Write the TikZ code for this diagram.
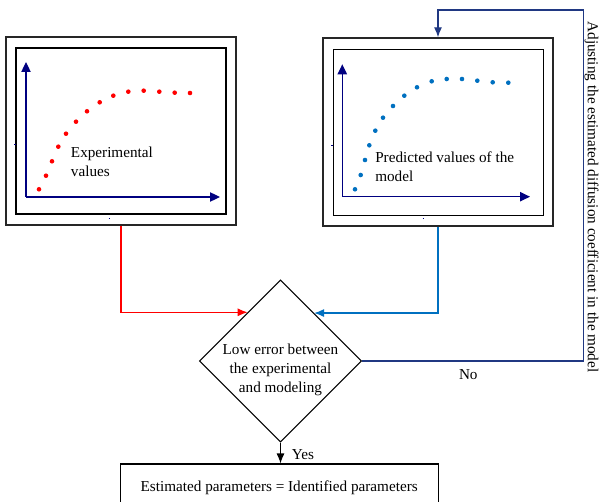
\documentclass[tikz,border=0pt]{standalone}
\usepackage{fontspec}
\setmainfont{Liberation Serif}
\usepackage{tikz}
\usetikzlibrary{shapes,arrows.meta,positioning,calc}

\definecolor{expred}{RGB}{255,0,0}
\definecolor{predblue}{RGB}{0,112,192}
\definecolor{axisnavy}{RGB}{0,0,128}
\definecolor{loopnavy}{RGB}{32,56,130}

\tikzset{
	outerbox/.style={draw=black!85,line width=1pt,minimum width=172.5pt,minimum height=141pt,inner sep=0},
	innerbox/.style={draw=black,line width=0.9pt,minimum width=157.5pt,minimum height=124.5pt,inner sep=0},
	plotaxis/.style={axisnavy,line width=0.9pt,-{Triangle[length=7.5pt,width=7pt]}},
	plaintext/.style={font=\fontsize{11.4}{14.2}\selectfont,inner sep=0,align=left},
	flowarrow/.style={line width=0.9pt,-{Latex[length=7.5pt,width=6pt]}}
}

\begin{document}
\begin{tikzpicture}[x=0.75pt,y=-0.75pt]
		\useasboundingbox (0,0) rectangle (608,502);
		
		% experimental curve
		\node[outerbox] (expbox) at (121,131){};
		\node[innerbox] (expplot) at (121,131){};
		\draw[plotaxis] (26,197) -- (26,62);
		\draw[plotaxis] (26,197) -- (220,197);
		\draw[axisnavy] (14,144) -- (16,144);
		\draw[axisnavy] (108.5,218) -- (109,218);
		\foreach \px/\py in {39/189.3,46/175.7,52/161.3,58.3/146.7,66/133.7,76/121.7,87/111.3,99.7/102.3,113.3/95.7,128.3/91.7,143.7/90.7,159.3/91.7,174.7/92.7,190/93}
			\fill[expred] (\px,\py) circle (2.3);
		\node[plaintext,anchor=west] (exptext) at (70.7,162.2){Experimental\\values};
		
		% predicted curve
		\node[outerbox] (predbox) at (438,132){};
		\node[innerbox] (predplot) at (438.5,132.2){};
		\draw[plotaxis] (342.3,196.7) -- (342.3,64.3);
		\draw[plotaxis] (342.3,196.7) -- (530,196.7);
		\draw[axisnavy] (331,145) -- (333,145);
		\draw[axisnavy] (422.5,218.3) -- (423,218.3);
		\foreach \px/\py in {355/189.3,360.7/175,365/160,369.3/145.3,375.3/130.7,383/117.7,393/106,404.3/95.7,417/87.3,431.7/81.3,446.7/79,462/79,477.3/80.7,492.7/82.3,508.3/82.7}
			\fill[predblue] (\px,\py) circle (2.3);
		\node[plaintext,anchor=west] (predtext) at (375,166.5){Predicted values of the\\model};
		
		% decision
		\node[draw,diamond,aspect=1,line width=0.8pt,minimum width=121.5pt,minimum height=121.5pt,inner sep=0] (check) at (280.5,361){};
		\node[plaintext,align=center] (checktext) at (280.5,370){Low error between\\the experimental\\and modeling};
		\node[draw,line width=0.8pt,minimum width=238.5pt,minimum height=29.25pt,inner sep=0] (result) at (279.2,483.5){};
		\node[plaintext] (resulttext) at (279.2,487.3){Estimated parameters = Identified parameters};
		
		\coordinate (turn) at (583.3,10);
		\draw[flowarrow,expred] (expbox.south) |- (check.124.5);
		\draw[flowarrow,predblue] (predbox.south) |- (check.55.5);
		\draw[flowarrow,loopnavy] (check.east) -| (turn) -| (predbox.north);
		\draw[flowarrow,black] (check.south) -- (check.south |- result.north);
		
		\node[plaintext] (nolabel) at (468.3,374.3){No};
		\node[plaintext] (yeslabel) at (303,454.3){Yes};
		\node[plaintext,rotate=-90] (adjust) at (591.5,197){Adjusting the estimated diffusion coefficient in the model};
		
		\end{tikzpicture}
\end{document}
